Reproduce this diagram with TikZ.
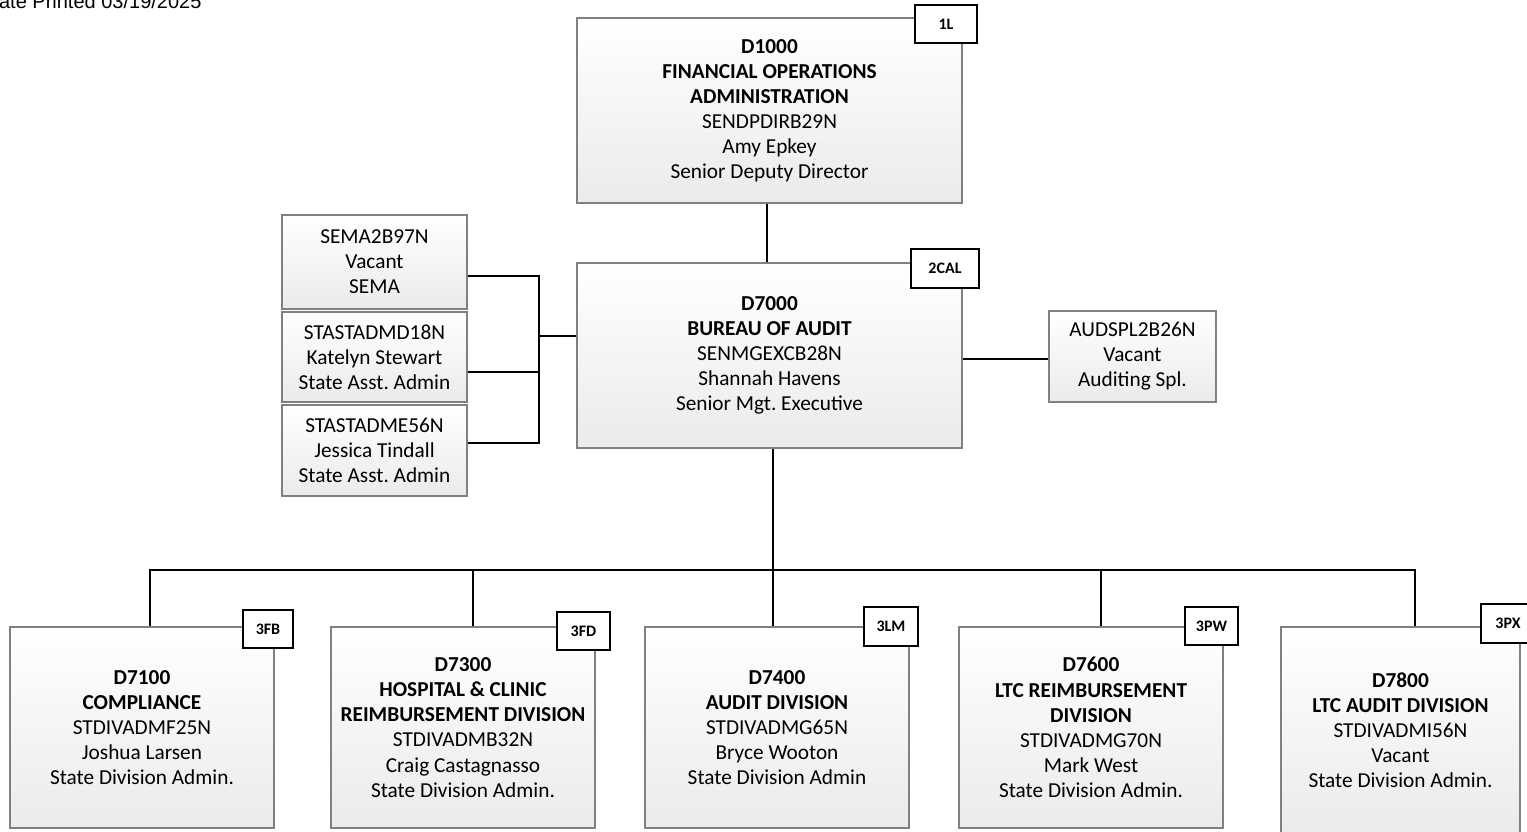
\documentclass[tikz,border=0pt]{standalone}
\usepackage{fontspec}
\setmainfont{Carlito}
\newfontfamily\arialf{Liberation Sans}
\frenchspacing
\begin{document}
\begin{tikzpicture}[x=1pt,y=-1pt,
  pbox/.style={draw=gray, line width=1.2pt, top color=white, bottom color=black!8,
    inner sep=0pt, align=center, font=\fontsize{21.3}{25.1}\selectfont},
  tagbox/.style={draw=black, line width=1.8pt, fill=white, inner sep=0pt,
    font=\fontsize{16}{18}\selectfont\bfseries},
  conn/.style={draw=black, line width=1.8pt}]
\useasboundingbox (0,0) rectangle (1527,832);

\node[anchor=base east, font=\arialf\fontsize{20}{24}\selectfont] (date) at (205,9) {Date Printed 03/19/2025};

% boxes
\node[pbox, minimum width=385, minimum height=185] (d1000) at (769.5,110.5)
  {\textbf{D1000}\\\textbf{FINANCIAL OPERATIONS}\\\textbf{ADMINISTRATION}\\SENDPDIRB29N\\Amy Epkey\\Senior Deputy Director};
\node[pbox, minimum width=385, minimum height=185] (d7000) at (769.5,355.5)
  {\textbf{D7000}\\\textbf{BUREAU OF AUDIT}\\SENMGEXCB28N\\Shannah Havens\\Senior Mgt. Executive};
\node[pbox, minimum width=167, minimum height=91] (aud) at (1132.5,356.5)
  {AUDSPL2B26N\\Vacant\\Auditing Spl.};
\node[pbox, minimum width=185, minimum height=94] (sema) at (374.5,262)
  {SEMA2B97N\\Vacant\\SEMA};
\node[pbox, minimum width=185, minimum height=90] (stasd) at (374.5,357)
  {STASTADMD18N\\Katelyn Stewart\\State Asst. Admin};
\node[pbox, minimum width=185, minimum height=91] (stase) at (374.5,450.5)
  {STASTADME56N\\Jessica Tindall\\State Asst. Admin};

\node[pbox, minimum width=264, minimum height=201] (d7100) at (142,727.5)
  {\textbf{D7100}\\\textbf{COMPLIANCE}\\STDIVADMF25N\\Joshua Larsen\\State Division Admin.};
\node[pbox, minimum width=264, minimum height=201] (d7300) at (463,727.5)
  {\textbf{D7300}\\\textbf{HOSPITAL \& CLINIC}\\\textbf{REIMBURSEMENT DIVISION}\\STDIVADMB32N\\Craig Castagnasso\\State Division Admin.};
\node[pbox, minimum width=264, minimum height=201] (d7400) at (777,727.5)
  {\textbf{D7400}\\\textbf{AUDIT DIVISION}\\STDIVADMG65N\\Bryce Wooton\\State Division Admin};
\node[pbox, minimum width=264, minimum height=201] (d7600) at (1091,727.5)
  {\textbf{D7600}\\\textbf{LTC REIMBURSEMENT}\\\textbf{DIVISION}\\STDIVADMG70N\\Mark West\\State Division Admin.};
\node[pbox, minimum width=239, minimum height=207] (d7800) at (1400.5,730.5)
  {\textbf{D7800}\\\textbf{LTC AUDIT DIVISION}\\STDIVADMI56N\\Vacant\\State Division Admin.};

% connectors
\coordinate (bus) at (773,570);
\coordinate (lx) at (539,336);
\draw[conn] ([xshift=-2.5]d1000.south) -- ([xshift=-2.5]d7000.north);
\draw[conn] ([xshift=3.5]d7000.south) -- ([xshift=3.5]d7000.south |- bus);
\draw[conn] ([xshift=8]d7100.north) |- ([xshift=14.5]d7800.north |- bus) -- ([xshift=14.5]d7800.north);
\draw[conn] ([xshift=10]d7300.north) -- ([xshift=10]d7300.north |- bus);
\draw[conn] ([xshift=-4]d7400.north) -- ([xshift=-4]d7400.north |- bus);
\draw[conn] ([xshift=10]d7600.north) -- ([xshift=10]d7600.north |- bus);
\draw[conn] ([yshift=-14]sema.east) -| ([yshift=7.5]stase.east -| lx) -- ([yshift=7.5]stase.east);
\draw[conn] ([yshift=-15]stasd.east) -- ([yshift=-15]stasd.east -| lx);
\draw[conn] ([yshift=19.5]d7000.west) -- (lx);
\draw[conn] ([yshift=-2.5]aud.west -| d7000.east) -- ([yshift=-2.5]aud.west);

% tags
\node[tagbox, minimum width=62, minimum height=38] (t1) at (946,24) {1L};
\node[tagbox, minimum width=68, minimum height=39] (t2) at (945,268.5) {2CAL};
\node[tagbox, minimum width=50, minimum height=38] (t3) at (268,629) {3FB};
\node[tagbox, minimum width=53, minimum height=38] (t4) at (583.5,631) {3FD};
\node[tagbox, minimum width=54, minimum height=39] (t5) at (891,626.5) {3LM};
\node[tagbox, minimum width=53, minimum height=38] (t6) at (1211.5,626) {3PW};
\node[tagbox, minimum width=54, minimum height=39] (t7) at (1508,623.5) {3PX};
\end{tikzpicture}
\end{document}
